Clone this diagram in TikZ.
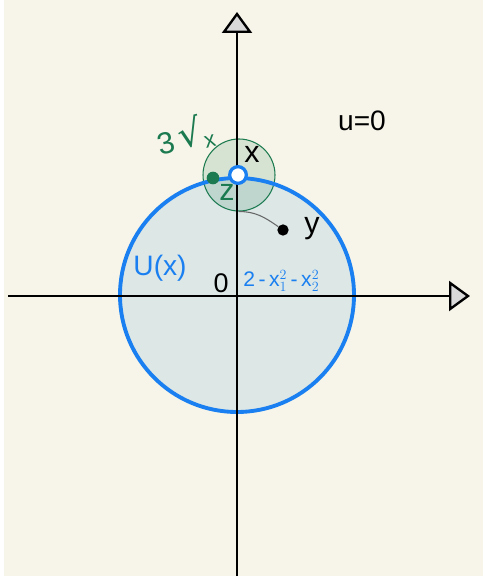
\documentclass[tikz,border=0pt]{standalone}
\usepackage{fontspec}
\setmainfont{Liberation Sans}
\newfontfamily\symfont{DejaVu Sans}
\usetikzlibrary{arrows.meta}
\definecolor{paper}{HTML}{F7F5E9}
\definecolor{ublue}{HTML}{1A7FF0}
\definecolor{ufill}{HTML}{DCE7E6}
\definecolor{nbgreen}{HTML}{1B7A50}

\begin{document}
\begin{tikzpicture}[
      x=0.3mm,y=-0.3mm,
      axis/.style={line width=2pt,
        -{Triangle[length=6.3mm,width=9mm,fill=black!15,line width=2pt]}},
      region/.style={circle,fill=ufill,minimum size=70.2mm,inner sep=0pt},
      ring/.style={draw=ublue,line width=3.3pt},
      ball/.style={circle,draw=nbgreen,line width=0.9pt,fill=nbgreen,
        fill opacity=0.15,minimum size=21.6mm,inner sep=0pt},
      dot/.style={circle,inner sep=0pt,minimum size=3.4mm},
      hole/.style={circle,draw=ublue,fill=white,line width=2.8pt,
        inner sep=0pt,minimum size=5mm},
      lbl/.style={font=\fontsize{26}{30}\selectfont,inner sep=1pt}
    ]
    \useasboundingbox (0,0) rectangle (483,579);
    \fill[paper] (4,0) rectangle (483,576);
    % the set U(x) and the ball round x
    \node[region] (U) at (237,295) {};
    \node[ball] (BALL) at (239,175) {};
    \draw[ring] (U.center) circle[radius=117];
    % axes
    \coordinate (XL) at (8,296);
    \coordinate (XR) at (470,296);
    \coordinate (YB) at (237,576);
    \coordinate (YT) at (237,12);
    \draw[axis] (XL) -- (XR);
    \draw[axis] (YB) -- (YT);
    % points
    \node[dot,fill=black] (Y) at (283,230) {};
    \node[dot,fill=nbgreen,minimum size=3.8mm] (Z) at (213,178) {};
    \node[hole] (X) at (238,175) {};
    \draw[black!60,line width=0.9pt] (BALL.south) to[out=0,in=145] (Y);
    % labels
    \node[lbl] (XLAB) at (252,154) {x};
    \node[lbl,text=nbgreen] (ZLAB) at (227,192) {z};
    \node[lbl] (YLAB) at (312,229) {y};
    \node[lbl,font=\fontsize{24}{28}\selectfont] (ULAB) at (362,121) {u=0};
    \node[lbl,text=ublue,font=\fontsize{24}{28}\selectfont] (UXLAB) at (160,268) {U(x)};
    \node[lbl,font=\fontsize{23}{27}\selectfont] (ORIG) at (221,283) {0};
    \node[font=\fontsize{18}{20}\selectfont,inner sep=1pt,anchor=west,
      text=ublue] (FORM) at (242,281)
      {2\,-\,x$_{\scriptstyle 1}^{\scriptstyle 2}$\,-\,x$_{\scriptstyle 2}^{\scriptstyle 2}$};
    \node[text=nbgreen,font=\fontsize{26}{30}\selectfont,rotate=14,inner sep=1pt]
      (RAD) at (185,136) {3\,{\symfont\fontsize{32}{34}\selectfont √}\raisebox{-0.3ex}{\fontsize{19}{21}\selectfont x}};
  \end{tikzpicture}
\end{document}
